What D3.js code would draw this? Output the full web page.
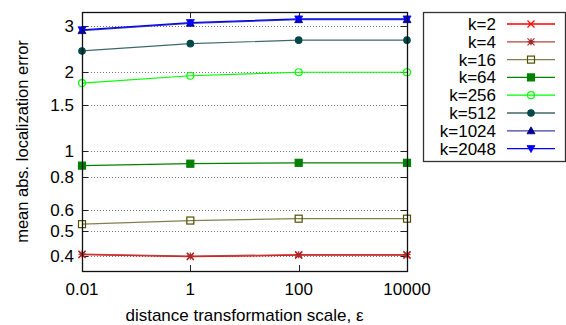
<!DOCTYPE html>
<html>
<head>
<meta charset="utf-8">
<script src="https://cdn.jsdelivr.net/npm/d3@7"></script>
<style>
  body { margin: 0; background: #fff; }
  svg { font-family: "Liberation Sans", Arial, sans-serif; }
</style>
</head>
<body>
<script>
// data
var epsilons = [0.01, 1, 100, 10000];
var kLabels = ["k=2", "k=4", "k=16", "k=64", "k=256", "k=512", "k=1024", "k=2048"];
var k2 = [0.405, 0.398, 0.403, 0.403];
var k4 = [0.407, 0.400, 0.405, 0.405];
var k16 = [0.529, 0.546, 0.555, 0.555];
var k64 = [0.883, 0.898, 0.905, 0.905];
var k256 = [1.82, 1.94, 2.0, 2.0];
var k512 = [2.41, 2.57, 2.65, 2.65];
var k1024 = [2.88, 3.07, 3.17, 3.17];
var k2048 = [2.90, 3.09, 3.19, 3.19];
var yTicks = [0.4, 0.5, 0.6, 0.8, 1, 1.5, 2, 3];
var xTicks = [0.01, 1, 100, 10000];

var seriesValues = [k2, k4, k16, k64, k256, k512, k1024, k2048];
var colors = ["#ff0000", "#a52a2a", "#505000", "#008000", "#00ff00", "#004848", "#000090", "#0000ff"];
var lineColors = ["#ff0000", "#b04545", "#808050", "#008000", "#00ff00", "#406868", "#4040a0", "#0000ff"];
var markers = ["x", "star", "osquare", "square", "ocircle", "circle", "triup", "tridown"];

var width = 566, height = 325;
var margin = {top: 12, left: 82, right: 159, bottom: 54};
var fs = 17;

var svg = d3.select("body").append("svg")
    .attr("width", width)
    .attr("height", height);

var x = d3.scaleLog().domain([0.01, 10000]).range([margin.left, width - margin.right]);
var y = d3.scaleLog().domain([0.351, 3.39]).range([height - margin.bottom, margin.top]);

var x0 = margin.left, x1 = width - margin.right, y0 = height - margin.bottom, y1 = margin.top;

// grid
svg.append("g").selectAll("line")
    .data(yTicks)
  .enter().append("line")
    .attr("x1", x0).attr("x2", x1)
    .attr("y1", d => Math.round(y(d)) + 0.5).attr("y2", d => Math.round(y(d)) + 0.5)
    .attr("stroke", "#777")
    .attr("stroke-width", 1)
    .attr("stroke-dasharray", "1,2");

// ticks (inward, both sides)
var tk = svg.append("g").attr("stroke", "#222").attr("stroke-width", 1);
yTicks.forEach(function(d) {
    var yy = Math.round(y(d)) + 0.5;
    tk.append("line").attr("x1", x0).attr("x2", x0 + 6).attr("y1", yy).attr("y2", yy);
    tk.append("line").attr("x1", x1).attr("x2", x1 - 6).attr("y1", yy).attr("y2", yy);
});
xTicks.forEach(function(d) {
    var xx = Math.round(x(d)) + 0.5;
    tk.append("line").attr("x1", xx).attr("x2", xx).attr("y1", y0).attr("y2", y0 - 6);
    tk.append("line").attr("x1", xx).attr("x2", xx).attr("y1", y1).attr("y2", y1 + 6);
});

// tick labels
svg.append("g").selectAll("text")
    .data(yTicks)
  .enter().append("text")
    .attr("x", x0 - 8)
    .attr("y", d => y(d))
    .attr("dy", "0.35em")
    .attr("text-anchor", "end")
    .attr("font-size", fs)
    .text(d => d);

svg.append("g").selectAll("text")
    .data(xTicks)
  .enter().append("text")
    .attr("x", d => x(d))
    .attr("y", y0 + 24)
    .attr("text-anchor", "middle")
    .attr("font-size", fs)
    .text(d => d);

// axis titles
svg.append("text")
    .attr("x", (x0 + x1) / 2)
    .attr("y", 321)
    .attr("text-anchor", "middle")
    .attr("font-size", fs)
    .text("distance transformation scale, ε");

svg.append("text")
    .attr("transform", "translate(28," + ((y0 + y1) / 2) + ") rotate(-90)")
    .attr("text-anchor", "middle")
    .attr("font-size", 16.5)
    .text("mean abs. localization error");

function drawMarker(g, type, cx, cy, color) {
    var s = 3.5;
    if (type === "x" || type === "star") {
        g.append("path")
            .attr("d", "M" + (cx - s) + "," + (cy - s) + "L" + (cx + s) + "," + (cy + s) +
                       "M" + (cx - s) + "," + (cy + s) + "L" + (cx + s) + "," + (cy - s) +
                       (type === "star" ? "M" + (cx - s) + "," + cy + "L" + (cx + s) + "," + cy +
                                          "M" + cx + "," + (cy - s) + "L" + cx + "," + (cy + s) : ""))
            .attr("stroke", color).attr("stroke-width", 1.2).attr("fill", "none");
    } else if (type === "osquare" || type === "square") {
        g.append("rect")
            .attr("x", cx - s).attr("y", cy - s).attr("width", 2 * s).attr("height", 2 * s)
            .attr("fill", type === "square" ? color : "none")
            .attr("stroke", color).attr("stroke-width", 1.2);
    } else if (type === "ocircle" || type === "circle") {
        g.append("circle")
            .attr("cx", cx).attr("cy", cy).attr("r", type === "circle" ? 3.2 : 3.5)
            .attr("fill", type === "circle" ? color : "none")
            .attr("stroke", color).attr("stroke-width", 1.2);
    } else {
        var up = type === "triup" ? -1 : 1;
        g.append("path")
            .attr("d", "M" + cx + "," + (cy + up * 4) + "L" + (cx - 4) + "," + (cy - up * 3) +
                       "L" + (cx + 4) + "," + (cy - up * 3) + "Z")
            .attr("fill", color).attr("stroke", color).attr("stroke-width", 0.8);
    }
}

var line = d3.line()
    .x(d => x(d[0]))
    .y(d => y(d[1]));

seriesValues.forEach(function(vals, i) {
    var pts = epsilons.map((e, j) => [e, vals[j]]);
    var g = svg.append("g");
    g.append("path")
        .attr("d", line(pts))
        .attr("fill", "none")
        .attr("stroke", lineColors[i])
        .attr("stroke-width", 1.2);
    pts.forEach(function(p) {
        drawMarker(g, markers[i], x(p[0]), y(p[1]), colors[i]);
    });
});

// frame
svg.append("rect")
    .attr("x", x0 + 0.5).attr("y", y1 + 0.5)
    .attr("width", x1 - x0).attr("height", y0 - y1)
    .attr("fill", "none").attr("stroke", "#111").attr("stroke-width", 1.3);

// legend
var lg = svg.append("g");
lg.append("rect")
    .attr("x", 423.5).attr("y", 12.5).attr("width", 142).attr("height", 149)
    .attr("fill", "#fff").attr("stroke", "#333").attr("stroke-width", 1.3);

kLabels.forEach(function(lab, i) {
    var ly = 24 + i * 17.8;
    lg.append("text")
        .attr("x", 496).attr("y", ly).attr("dy", "0.35em")
        .attr("text-anchor", "end")
        .attr("font-size", fs)
        .text(lab);
    lg.append("line")
        .attr("x1", 507).attr("x2", 555).attr("y1", ly).attr("y2", ly)
        .attr("stroke", lineColors[i]).attr("stroke-width", 1.3);
    drawMarker(lg, markers[i], 531, ly, colors[i]);
});
</script>
</body>
</html>
